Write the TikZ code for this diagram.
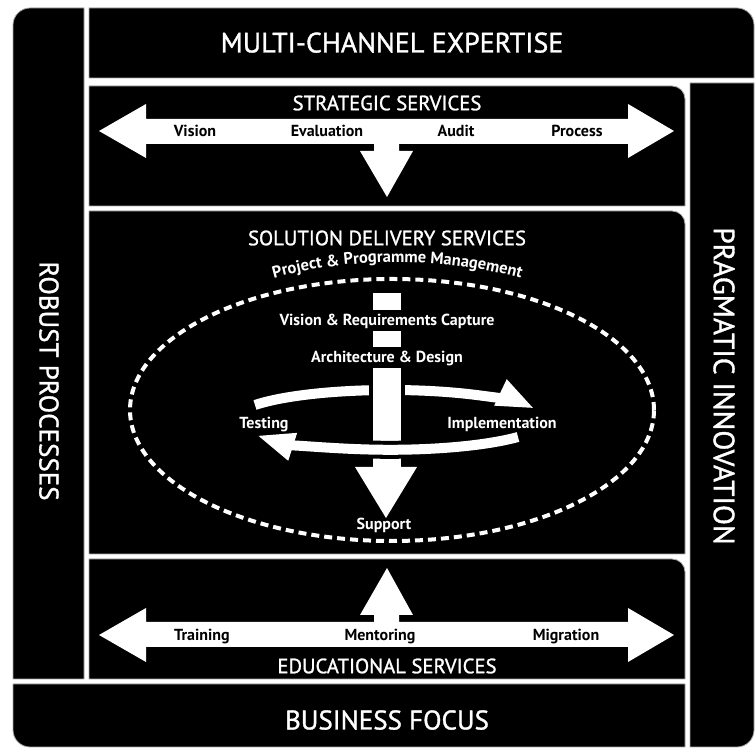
\documentclass[tikz,border=0pt]{standalone}
\usepackage{fontspec}
\setmainfont{PT Sans}
\newfontfamily\bandfont[FakeBold=1.2]{PT Sans}
\usetikzlibrary{arrows.meta,decorations.text}
\definecolor{panel}{HTML}{000000}
\definecolor{rim}{HTML}{A8A8A8}
\definecolor{paper}{HTML}{FFFFFF}
\tikzset{
  blk/.style={fill=panel,draw=rim,line width=.8pt},
  bigtitle/.style={text=paper,font=\bandfont\fontsize{27}{30}\selectfont,inner sep=0pt,text height=19pt,text depth=0pt},
  subtitle/.style={text=paper,font=\bandfont\fontsize{20.7}{24}\selectfont,inner sep=0pt,text height=14.5pt,text depth=0pt},
  lbl/.style={text=panel,font=\bfseries\fontsize{16}{19}\selectfont,inner sep=0pt,text height=11pt,text depth=0pt},
  wlbl/.style={lbl,text=paper},
  flow/.style={fill=paper},
  ring/.style={draw=paper,line width=10pt,-{Triangle[length=38pt,width=26pt]}},
}
\newcommand{\mgmtfont}{\bfseries\fontsize{16.5}{19}\selectfont\color{paper}}

\begin{document}
\begin{tikzpicture}[x=1pt,y=1pt]
  \useasboundingbox (0,0) rectangle (755,749);

  % ── outer frame: four bands round the middle ──
  \path[blk] (84,70) -- (84,741) -- (30,741) arc[start angle=90,end angle=180,radius=17] -- (13,70) -- cycle;
  \path[blk] (89,671) -- (89,741) -- (737,741) arc[start angle=90,end angle=0,radius=17] -- (754,671) -- cycle;
  \path[blk] (690,666) -- (754,666) -- (754,19) arc[start angle=0,end angle=-90,radius=17] -- (690,2) -- cycle;
  \path[blk] (685,65) -- (685,2) -- (30,2) arc[start angle=270,end angle=180,radius=17] -- (13,65) -- cycle;

  % ── the three service panels (round corner top right) ──
  \path[blk] (89,543) -- (685,543) -- (685,650) arc[start angle=0,end angle=90,radius=13] -- (89,663) -- cycle;
  \path[blk] (89,195) -- (685,195) -- (685,525) arc[start angle=0,end angle=90,radius=13] -- (89,538) -- cycle;
  \path[blk] (89,70) -- (685,70) -- (685,177) arc[start angle=0,end angle=90,radius=13] -- (89,190) -- cycle;

  % ── strategic: double arrow with a drop into delivery ──
  \fill[flow] (99,618) -- (146,645) -- (146,630) -- (628,630) -- (628,645) -- (674,618) -- (628,591) -- (628,605)
    -- (399,605) -- (399,598) -- (413,598) -- (387,552) -- (360,598) -- (374,598) -- (374,605)
    -- (146,605) -- (146,591) -- cycle;

  % ── educational: double arrow with a lift into delivery ──
  \fill[flow] (99,114) -- (146,87) -- (146,102) -- (628,102) -- (628,87) -- (674,114) -- (628,141) -- (628,127)
    -- (399,127) -- (399,134) -- (413,134) -- (387,181) -- (360,134) -- (374,134) -- (374,127)
    -- (146,127) -- (146,141) -- cycle;

  % ── delivery: management loop, phase bar, build cycle ──
  \draw[paper,line width=4pt,dash pattern=on 8pt off 5pt] (392,339) ellipse[x radius=262,y radius=131];
  \path[decorate,decoration={text along path,text align=center,
      text={|\mgmtfont|Project {\&} Programme Management}}]
    (189,434) arc[start angle=140,end angle=40,x radius=272,y radius=148];

  \draw[ring] (255,344) arc[start angle=150,end angle=22,x radius=156,y radius=30];
  \fill[panel] (369,307) rectangle (405,381);
  \fill[flow] (373,439) rectangle (401,456);
  \fill[flow] (373,402) rectangle (401,418);
  \fill[flow] (373,282) rectangle (401,381);
  \draw[panel,line width=18pt] (443,301) arc[start angle=-70,end angle=-110,x radius=156,y radius=30];
  \draw[ring] (518,312) arc[start angle=-35,end angle=-149,x radius=156,y radius=30];
  \fill[flow] (355,282) -- (417,282) -- (386,231) -- cycle;

  % ── band and panel titles ──
  \node[bigtitle,font=\bandfont\fontsize{28}{30}\selectfont] (mce) at (392,706) {MULTI-CHANNEL EXPERTISE};
  \node[bigtitle] (bf) at (387,29) {BUSINESS FOCUS};
  \node[bigtitle,rotate=-90] (rp) at (49,368) {ROBUST PROCESSES};
  \node[bigtitle,font=\bandfont\fontsize{29.3}{32}\selectfont,text height=20.5pt,rotate=-90] (pi) at (724,363) {PRAGMATIC INNOVATION};
  \node[subtitle] (ss) at (387,646) {STRATEGIC SERVICES};
  \node[subtitle] (sds) at (387,511) {SOLUTION DELIVERY SERVICES};
  \node[subtitle] (es) at (387,83) {EDUCATIONAL SERVICES};

  % labels on the arrows
  \node[lbl] (st-1) at (195,618) {Vision};
  \node[lbl] (st-2) at (327,618) {Evaluation};
  \node[lbl] (st-3) at (456,618) {Audit};
  \node[lbl] (st-4) at (577,618) {Process};
  \node[lbl] (ed-1) at (202,114) {Training};
  \node[lbl] (ed-2) at (380,114) {Mentoring};
  \node[lbl] (ed-3) at (566,114) {Migration};

  \node[wlbl] (vrc) at (387,429) {Vision \& Requirements Capture};
  \node[wlbl] (ad) at (387,392) {Architecture \& Design};
  \node[wlbl] (tst) at (264,326) {Testing};
  \node[wlbl] (imp) at (502,326) {Implementation};
  \node[wlbl] (sup) at (384,225) {Support};
\end{tikzpicture}
\end{document}
